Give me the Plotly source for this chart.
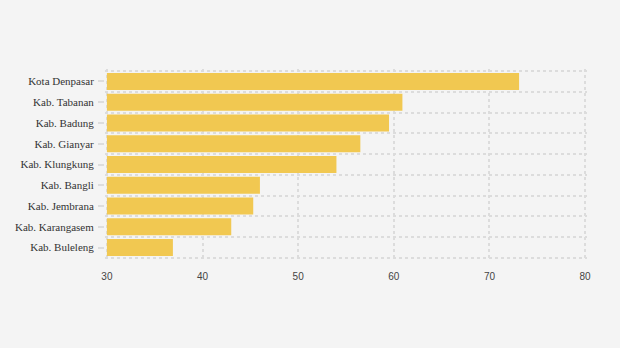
import plotly.graph_objects as go

categories = ["Kota Denpasar", "Kab. Tabanan", "Kab. Badung", "Kab. Gianyar",
              "Kab. Klungkung", "Kab. Bangli", "Kab. Jembrana", "Kab. Karangasem",
              "Kab. Buleleng"]
values = [73.1, 60.9, 59.5, 56.5, 54.0, 46.0, 45.3, 43.0, 36.9]
x_ticks = [30, 40, 50, 60, 70, 80]
axis_start = 30

positions = list(range(len(categories)))
boundaries = [p - 0.5 for p in positions] + [positions[-1] + 0.5]

fig = go.Figure(go.Bar(
    x=[v - axis_start for v in values], y=positions, orientation="h",
    base=axis_start,
    marker=dict(color="#F1C851", line=dict(width=0)),
    width=0.82,
))

fig.update_layout(
    width=620, height=348,
    margin=dict(l=105, r=33, t=69, b=88),
    paper_bgcolor="#F4F4F4", plot_bgcolor="#F4F4F4",
    showlegend=False,
    xaxis=dict(
        range=[29.8, 80.2], tickvals=x_ticks, showgrid=True,
        gridcolor="#DCDCDC", griddash="3px,3px", gridwidth=1.5,
        zeroline=False, showline=False,
        ticks="outside", ticklen=7, tickcolor="rgba(0,0,0,0)",
        tickfont=dict(family="Liberation Sans, Arial", size=10, color="#444"),
    ),
    yaxis=dict(
        range=[len(categories) - 0.4, -0.6],
        tickvals=positions, ticktext=categories,
        showgrid=False, zeroline=False, showline=False,
        ticks="outside", ticklen=6, tickcolor="#DDDDDD", tickwidth=1.5,
        ticklabelstandoff=2,
        tickfont=dict(family="Liberation Serif, Times New Roman", size=11, color="#333"),
        minor=dict(tickvals=boundaries, showgrid=True, gridcolor="#DCDCDC",
                   griddash="3px,3px", gridwidth=1.5, ticks=""),
    ),
)

fig.write_html("out.html")
